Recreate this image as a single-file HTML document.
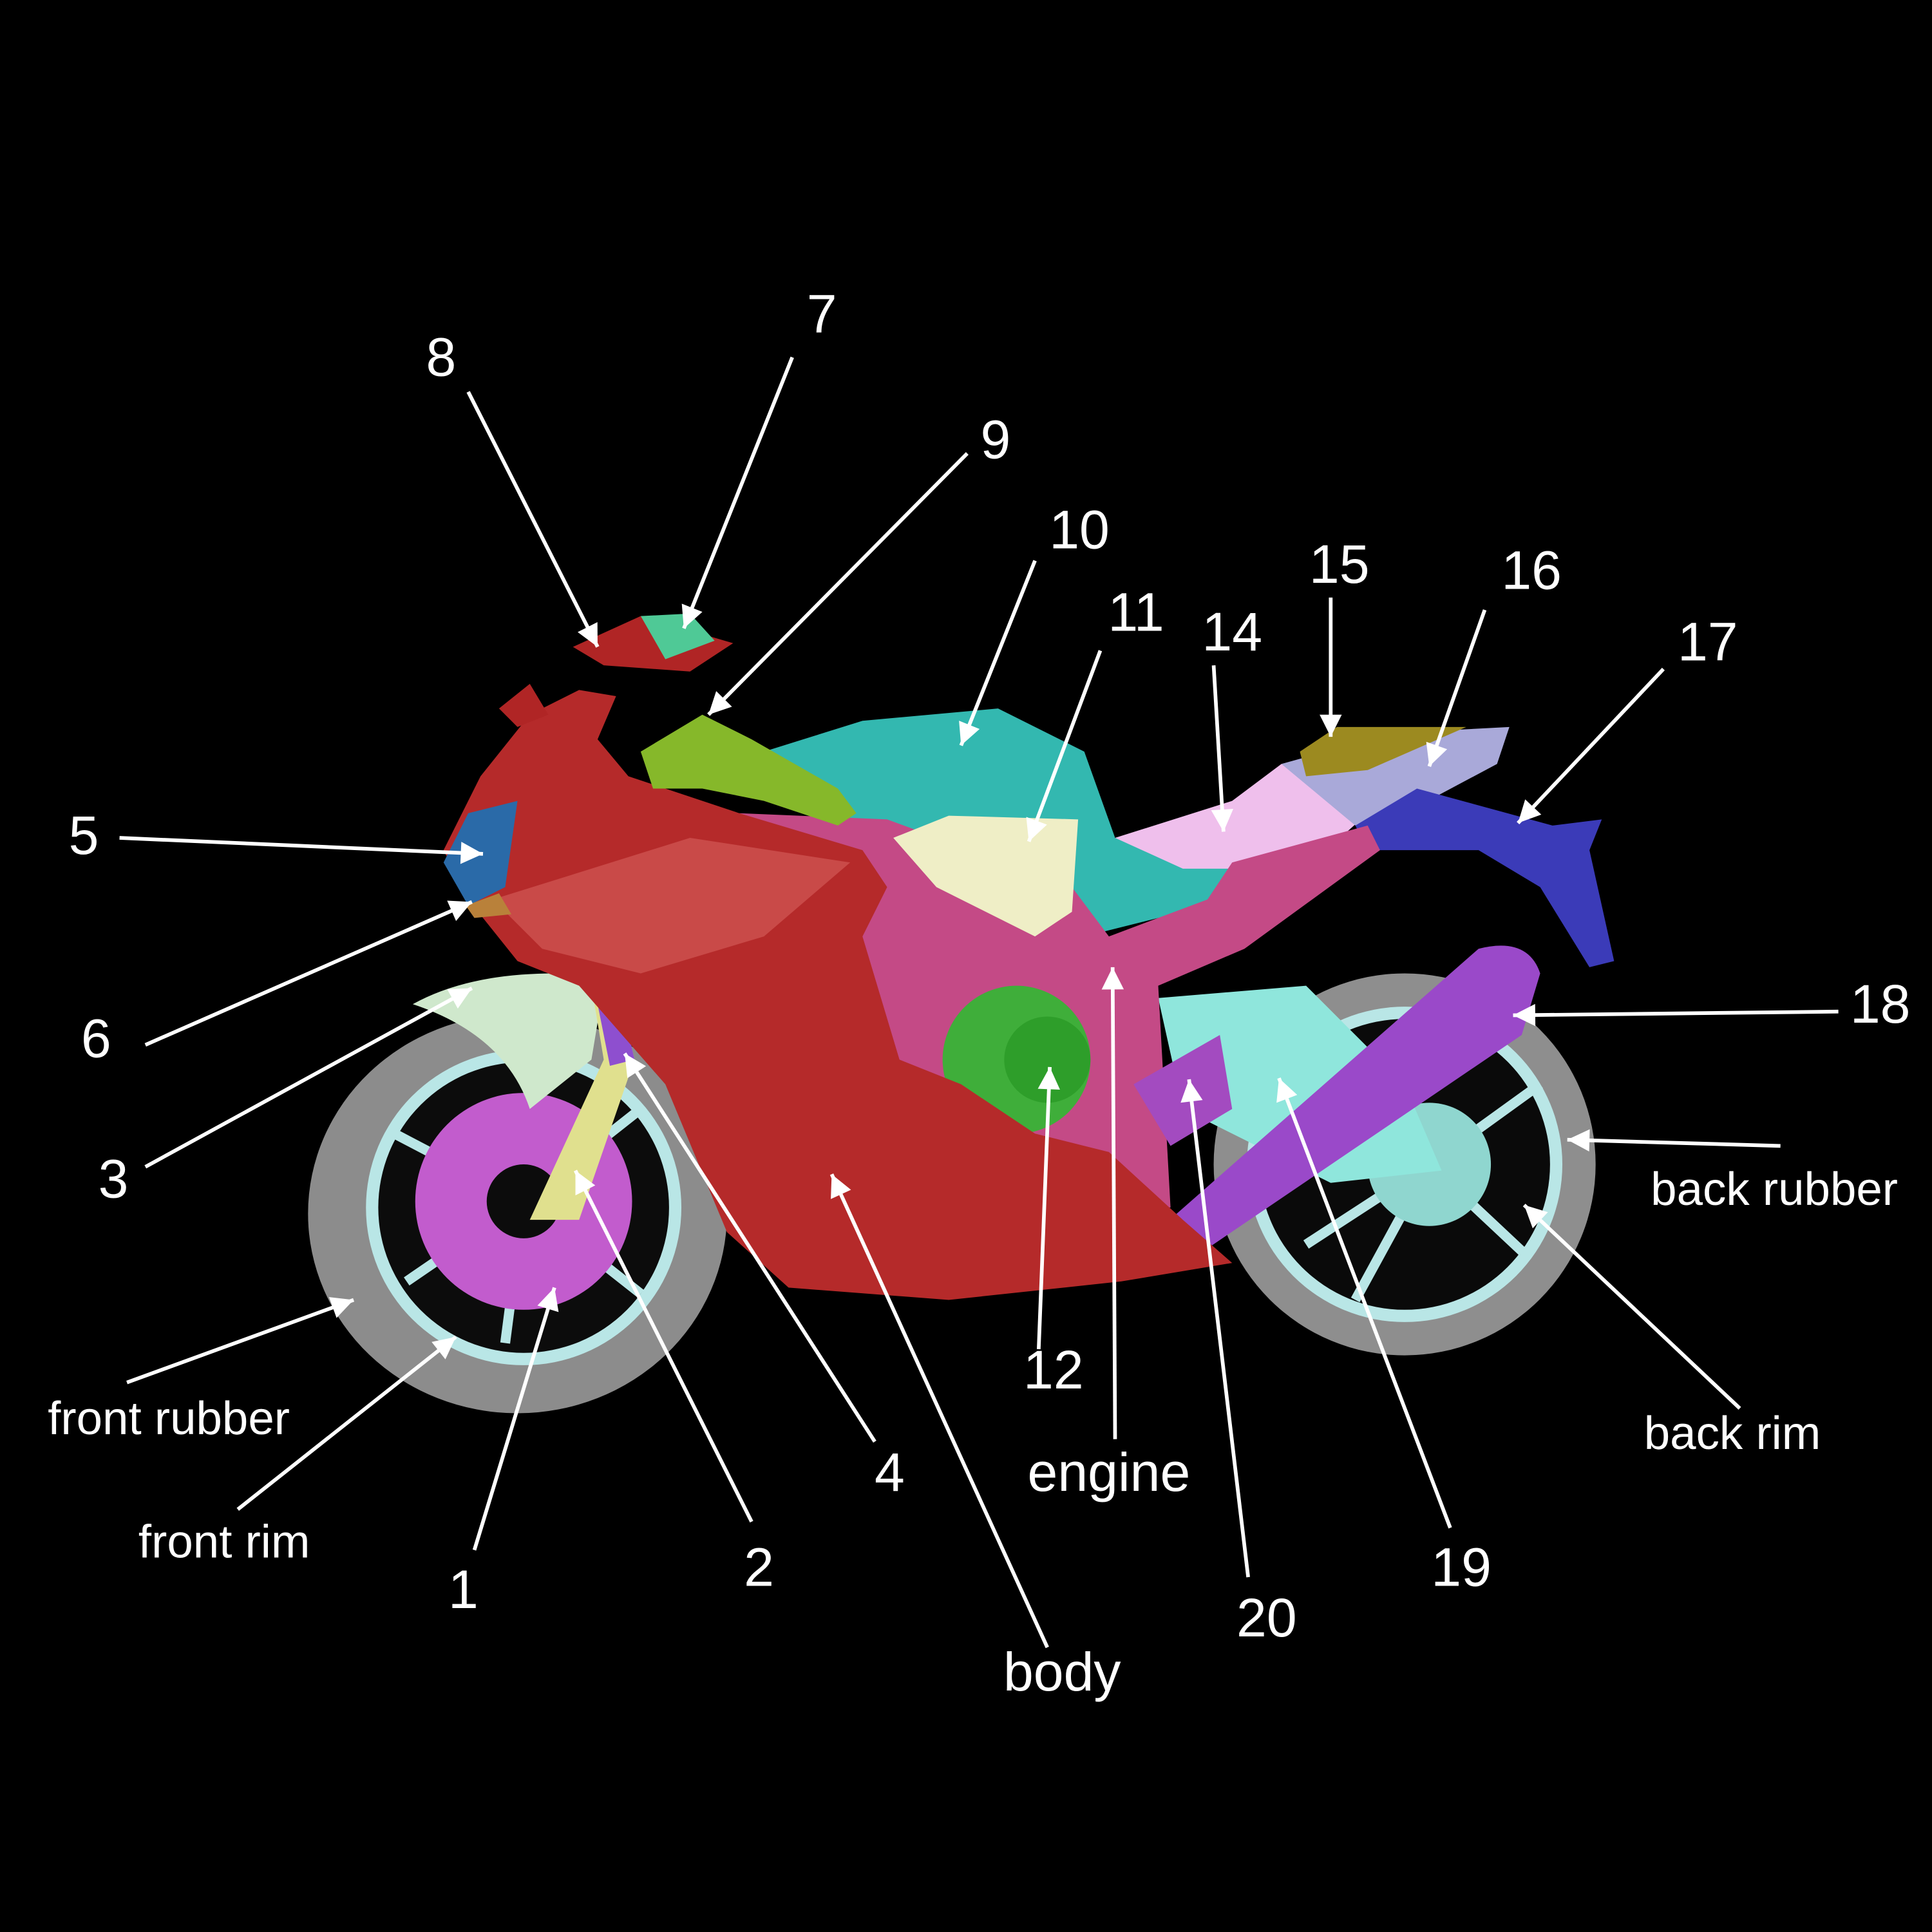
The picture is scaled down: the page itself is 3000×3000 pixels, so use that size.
<!DOCTYPE html>
<html><head><meta charset="utf-8"><style>
html,body{margin:0;padding:0;background:#000;width:3000px;height:3000px;overflow:hidden}
svg{display:block}
text{font-family:"Liberation Sans",sans-serif;fill:#fff}
</style></head><body>
<svg width="3000" height="3000" viewBox="0 0 1568 1568" xmlns="http://www.w3.org/2000/svg">
<defs>
<marker id="a" viewBox="0 0 10 10" refX="10" refY="5" markerWidth="9" markerHeight="6" orient="auto" markerUnits="strokeWidth"><path d="M0,0 L10,5 L0,10 z" fill="#fff"/></marker>
</defs>
<rect width="1568" height="1568" fill="#000"/>
<!-- rear tire -->
<circle cx="1140" cy="945" r="155" fill="#8e8e8e"/>
<circle cx="1140" cy="945" r="128" fill="#b9e6e6"/>
<circle cx="1140" cy="945" r="118" fill="#0a0a0a"/>
<g stroke="#b9e6e6" stroke-width="8">
<line x1="1160" y1="945" x2="1040" y2="880"/><line x1="1160" y1="945" x2="1100" y2="1055"/><line x1="1160" y1="945" x2="1240" y2="1020"/><line x1="1160" y1="945" x2="1250" y2="880"/><line x1="1160" y1="945" x2="1060" y2="1010"/></g>
<circle cx="1160" cy="945" r="50" fill="#8fd6cf"/>
<!-- front tire -->
<ellipse cx="420" cy="985" rx="170" ry="162" fill="#8c8c8c"/>
<ellipse cx="425" cy="980" rx="128" ry="128" fill="#b9e6e6"/>
<ellipse cx="425" cy="980" rx="118" ry="118" fill="#0c0c0c"/>
<g stroke="#b9e6e6" stroke-width="8">
<line x1="425" y1="975" x2="320" y2="920"/><line x1="425" y1="975" x2="330" y2="1040"/><line x1="425" y1="975" x2="410" y2="1090"/><line x1="425" y1="975" x2="520" y2="1050"/><line x1="425" y1="975" x2="520" y2="900"/></g>
<circle cx="425" cy="975" r="88" fill="#c25ccd"/>
<circle cx="425" cy="975" r="30" fill="#0c0c0c"/>
<!-- front fender -->
<path d="M335,815 Q380,790 450,790 L490,800 L480,860 L430,900 Q410,840 335,815z" fill="#cfe8cc"/>
<!-- fork -->
<path d="M480,800 L500,795 L515,860 L470,990 L430,990 L490,860z" fill="#e0e08e"/>
<path d="M482,800 L500,795 L515,860 L495,865z" fill="#8e4fcf"/>
<!-- rear swingarm -->
<path d="M940,810 L1060,800 L1140,880 L1170,950 L1080,960 L960,900z" fill="#8fe6dc"/>
<!-- tank -->
<path d="M620,610 L700,585 L810,575 L880,610 L905,680 L1000,700 L1000,730 L880,760 L850,720 L700,680z" fill="#33b8b0"/>
<!-- seat -->
<path d="M905,680 L1000,650 L1040,620 L1110,660 L1060,705 L960,705z" fill="#efbfec"/>
<path d="M1040,620 L1130,595 L1225,590 L1215,620 L1140,660 L1100,670z" fill="#a9a9d9"/>
<path d="M1055,610 L1085,590 L1190,590 L1110,625 L1060,630z" fill="#9c8a20"/>
<path d="M1100,670 L1150,640 L1260,670 L1300,665 L1290,690 L1310,780 L1290,785 L1250,720 L1200,690 L1110,690z" fill="#3b3bb8"/>
<!-- pink frame -->
<path d="M600,660 L720,665 L870,720 L900,760 L980,730 L1000,700 L1110,670 L1120,690 L1010,770 L940,800 L950,980 L840,990 L760,960 L720,880 L680,760z" fill="#c44a86"/>
<!-- cream panel -->
<path d="M725,680 L770,662 L875,665 L870,740 L840,760 L760,720z" fill="#efeec6"/>
<!-- engine cover -->
<circle cx="825" cy="860" r="60" fill="#3fae3a"/>
<circle cx="850" cy="860" r="35" fill="#2e9e2a"/>
<!-- exhaust -->
<path d="M955,985 L1200,770 Q1240,760 1250,790 L1235,840 L970,1020 Q945,1010 955,985z" fill="#9a49c9"/>
<!-- red body -->
<path d="M360,690 L390,630 L430,580 L470,560 L500,565 L485,600 L510,630 L600,660 L700,690 L720,720 L700,760 L730,860 L780,880 L840,920 L900,935 L960,990 L1000,1025 L910,1040 L770,1055 L640,1045 L590,1000 L540,880 L470,800 L420,780 L380,730z" fill="#b52a2a"/>
<path d="M400,730 L560,680 L690,700 L620,760 L520,790 L440,770z" fill="#c94a48"/>
<path d="M465,525 L520,500 L595,522 L560,545 L490,540z" fill="#b02525"/>
<path d="M520,500 L560,498 L580,520 L540,535z" fill="#4fc996"/>
<path d="M405,575 L430,555 L445,580 L420,590z" fill="#b02525"/>
<!-- windscreen blue -->
<path d="M360,700 L380,660 L420,650 L410,720 L380,735z" fill="#2a6aa8"/>
<path d="M378,735 L405,725 L415,742 L385,745z" fill="#b9813a"/>
<!-- handlebar -->
<path d="M520,610 L570,580 L610,600 L680,640 L695,660 L680,670 L620,650 L570,640 L530,640z" fill="#86b82a"/>
<path d="M920,880 L990,840 L1000,900 L950,930z" fill="#a34bc0"/>
<g stroke="#fff" stroke-width="3" fill="none" marker-end="url(#a)">
<line x1="380" y1="318" x2="485" y2="525"/>
<line x1="643" y1="290" x2="555" y2="510"/>
<line x1="785" y1="368" x2="575" y2="580"/>
<line x1="840" y1="455" x2="780" y2="605"/>
<line x1="893" y1="528" x2="835" y2="683"/>
<line x1="985" y1="540" x2="993" y2="675"/>
<line x1="1080" y1="485" x2="1080" y2="598"/>
<line x1="1205" y1="495" x2="1160" y2="622"/>
<line x1="1350" y1="543" x2="1232" y2="668"/>
<line x1="1492" y1="821" x2="1228" y2="824"/>
<line x1="1445" y1="930" x2="1272" y2="925"/>
<line x1="1412" y1="1143" x2="1237" y2="978"/>
<line x1="1177" y1="1240" x2="1038" y2="875"/>
<line x1="1013" y1="1280" x2="965" y2="876"/>
<line x1="850" y1="1337" x2="675" y2="953"/>
<line x1="905" y1="1168" x2="903" y2="785"/>
<line x1="843" y1="1095" x2="852" y2="866"/>
<line x1="710" y1="1170" x2="507" y2="855"/>
<line x1="610" y1="1235" x2="467" y2="950"/>
<line x1="385" y1="1258" x2="450" y2="1045"/>
<line x1="193" y1="1225" x2="370" y2="1085"/>
<line x1="103" y1="1122" x2="287" y2="1055"/>
<line x1="118" y1="947" x2="383" y2="802"/>
<line x1="118" y1="848" x2="383" y2="732"/>
<line x1="97" y1="680" x2="392" y2="693"/>
</g>
<g font-size="44" text-anchor="middle">
<text x="358" y="305">8</text>
<text x="667" y="270">7</text>
<text x="808" y="372">9</text>
<text x="876" y="445">10</text>
<text x="922" y="512">11</text>
<text x="1000" y="528">14</text>
<text x="1087" y="473">15</text>
<text x="1243" y="478">16</text>
<text x="1386" y="536">17</text>
<text x="1526" y="830">18</text>
<text x="1186" y="1287">19</text>
<text x="1028" y="1328">20</text>
<text x="855" y="1127">12</text>
<text x="722" y="1210">4</text>
<text x="616" y="1287">2</text>
<text x="376" y="1305">1</text>
<text x="92" y="972">3</text>
<text x="78" y="858">6</text>
<text x="68" y="693">5</text>
<text x="900" y="1210">engine</text>
<text x="862" y="1372">body</text>
</g>
<g font-size="38" text-anchor="middle">
<text x="1440" y="978">back rubber</text>
<text x="1406" y="1176">back rim</text>
<text x="182" y="1264">front rim</text>
<text x="137" y="1164">front rubber</text>
</g>
</svg>
</body></html>
